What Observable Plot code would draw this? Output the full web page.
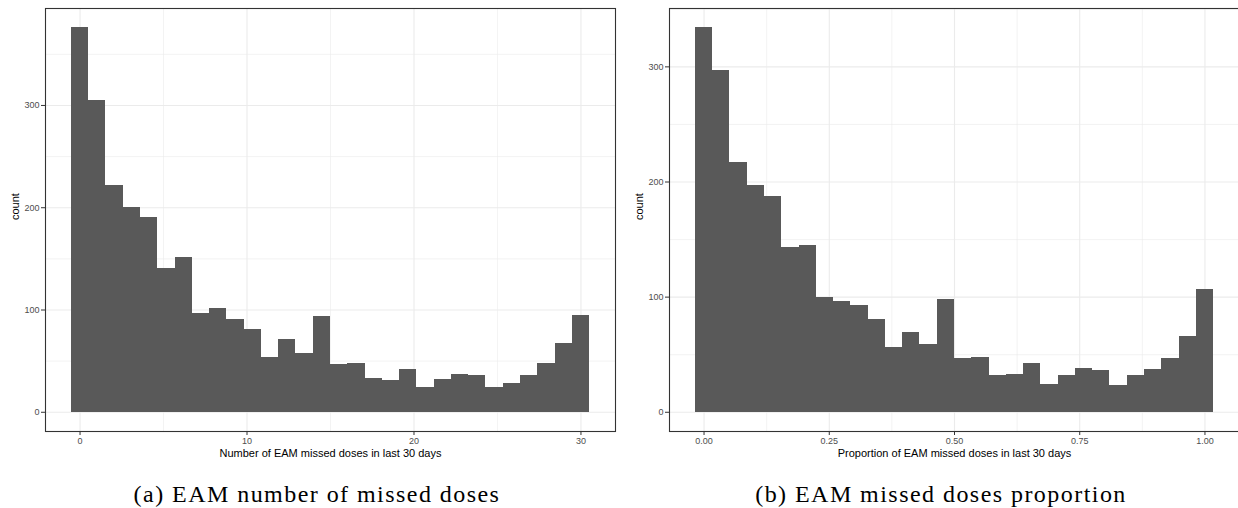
<!DOCTYPE html>
<html><head><meta charset="utf-8">
<script src="https://cdn.jsdelivr.net/npm/d3@7"></script>
<script src="https://cdn.jsdelivr.net/npm/@observablehq/plot@0.6"></script>
<style>
html,body{margin:0;padding:0;background:#fff;overflow:hidden}
#page{position:relative;width:1238px;height:508px;overflow:hidden;background:#fff}
.panel{position:absolute;top:0}
.cap{position:absolute;top:482px;font-family:"Liberation Serif","DejaVu Serif",serif;font-size:24px;line-height:24px;letter-spacing:1.45px;white-space:nowrap;color:#000;transform:translateX(-50%)}
</style></head><body><div id="page"></div>
<script>
// Panel (a): number of EAM missed doses (30 bins over 0..30)
const countsA = [376, 305, 222, 200, 190, 141, 151, 97, 101, 91, 81, 54, 71, 57, 94,
                 47, 48, 33, 31, 42, 24, 32, 37, 36, 24, 28, 36, 48, 67, 95];
const rangeA = [0, 30];
const xTicksA = [0, 10, 20, 30];
const xMinorA = [5, 15, 25];
const xTitleA = "Number of EAM missed doses in last 30 days";
const captionA = "(a) EAM number of missed doses";

// Panel (b): proportion of EAM missed doses (30 bins over 0..1)
const countsB = [334, 297, 217, 197, 187, 143, 145, 100, 96, 93, 81, 56, 69, 59, 98,
                 47, 48, 32, 33, 42, 24, 32, 38, 36, 23, 32, 37, 47, 66, 107];
const rangeB = [0, 1];
const xTicksB = [0, 0.25, 0.5, 0.75, 1];
const xMinorB = [0.125, 0.375, 0.625, 0.875];
const xTitleB = "Proportion of EAM missed doses in last 30 days";
const captionB = "(b) EAM missed doses proportion";

const yTicks = [0, 100, 200, 300];
const yMinor = [50, 150, 250, 350];
const yTitle = "count";
const nBins = 30;

function makePanel({counts, range, xTicks, xMinor, xFormat, xTitle, width, marginLeft, marginRight}) {
  const [lo, hi] = range;
  const w = (hi - lo) / (nBins - 1);
  const data = counts.map((c, i) => ({x1: lo + (i - 0.5) * w, x2: lo + (i + 0.5) * w, count: c}));
  const span = (hi - lo) + w;
  const xDomain = [lo - w / 2 - 0.05 * span, hi + w / 2 + 0.05 * span];
  const maxC = d3.max(counts);
  const yDomain = [-0.05 * maxC, 1.05 * maxC];
  return Plot.plot({
    width, height: 461,
    marginLeft, marginRight, marginTop: 8, marginBottom: 30,
    style: {fontFamily: "'Liberation Sans', Arial, sans-serif", background: "white", overflow: "visible"},
    x: {domain: xDomain},
    y: {domain: yDomain},
    marks: [
      Plot.gridY(yMinor, {stroke: "#EBEBEB", strokeOpacity: 1, strokeWidth: 0.6}),
      Plot.gridX(xMinor, {stroke: "#EBEBEB", strokeOpacity: 1, strokeWidth: 0.6}),
      Plot.gridY(yTicks, {stroke: "#EBEBEB", strokeOpacity: 1, strokeWidth: 1.1}),
      Plot.gridX(xTicks, {stroke: "#EBEBEB", strokeOpacity: 1, strokeWidth: 1.1}),
      Plot.rectY(data, {x1: "x1", x2: "x2", y1: 0, y2: "count", fill: "#595959", inset: 0, shapeRendering: "crispEdges"}),
      Plot.frame({stroke: "#333333", strokeWidth: 1.1}),
      Plot.axisX({ticks: xTicks, tickFormat: xFormat, tickSize: 4, tickPadding: 2, fontSize: 9,
                  stroke: "#333333", fill: "#4D4D4D", label: null}),
      Plot.axisY({ticks: yTicks, tickSize: 4, tickPadding: 2, fontSize: 9,
                  stroke: "#333333", fill: "#4D4D4D", label: null}),
      Plot.text([xTitle], {frameAnchor: "bottom", dy: 22, lineAnchor: "middle", fontSize: 11, fill: "black"}),
      Plot.text([yTitle], {frameAnchor: "left", dx: -30, rotate: -90, lineAnchor: "middle", fontSize: 11, fill: "black"})
    ]
  });
}

const page = document.getElementById("page");
const pa = makePanel({counts: countsA, range: rangeA, xTicks: xTicksA, xMinor: xMinorA, xFormat: d3.format("d"),
                      xTitle: xTitleA, width: 619, marginLeft: 45, marginRight: 4});
pa.classList.add("panel"); pa.style.left = "0px";
page.appendChild(pa);
const pb = makePanel({counts: countsB, range: rangeB, xTicks: xTicksB, xMinor: xMinorB, xFormat: d3.format(".2f"),
                      xTitle: xTitleB, width: 620, marginLeft: 50, marginRight: 0});
pb.classList.add("panel"); pb.style.left = "619px";
page.appendChild(pb);

for (const [txt, cx] of [[captionA, 317], [captionB, 941]]) {
  const d = document.createElement("div");
  d.className = "cap"; d.textContent = txt; d.style.left = cx + "px";
  page.appendChild(d);
}
</script></body></html>
